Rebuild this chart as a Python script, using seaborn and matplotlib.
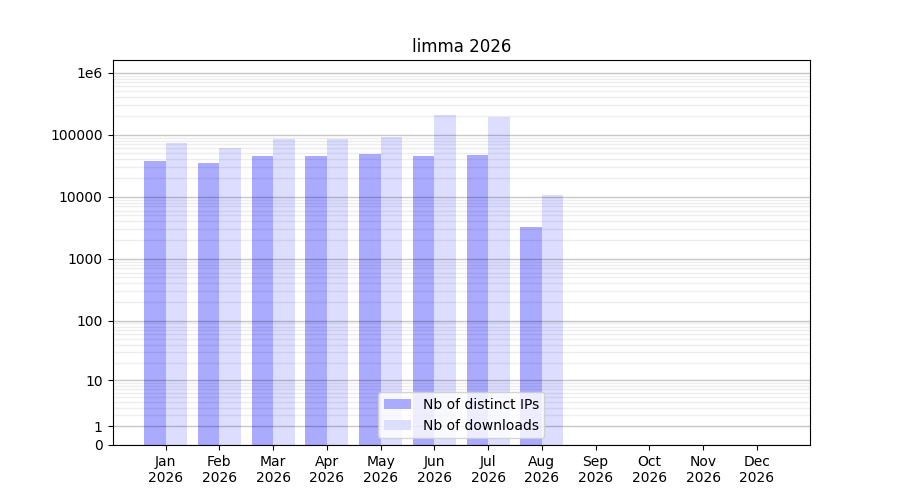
import matplotlib
matplotlib.use("Agg")
import matplotlib.pyplot as plt
import numpy as np
import pandas as pd
import seaborn as sns
from matplotlib.ticker import FixedLocator, FixedFormatter

# Data (limma, 2026)
MONTHS = ["Jan", "Feb", "Mar", "Apr", "May", "Jun",
          "Jul", "Aug", "Sep", "Oct", "Nov", "Dec"]
YEAR = 2026
distinct_ips = [37400, 34800, 45100, 45100, 48500, 45100,
                46800, 3240, 0, 0, 0, 0]
downloads = [73000, 60600, 84700, 84700, 91200, 206000,
             191000, 10600, 0, 0, 0, 0]
YTICKS = [0, 1, 10, 100, 1000, 10000, 100000, 1000000]
YTICK_LABELS = ["0", "1", "10", "100", "1000", "10000", "100000", "1e6"]


def log1p_scale(y):
    return np.log10(1 + np.clip(y, 0, None))


def inv_log1p_scale(y):
    return 10 ** y - 1


def main():
    labels = [f"{m}\n{YEAR}" for m in MONTHS]
    df = pd.DataFrame({
        "month": labels * 2,
        "value": distinct_ips + downloads,
        "series": ["Nb of distinct IPs"] * 12 + ["Nb of downloads"] * 12,
    })

    fig, ax = plt.subplots(figsize=(9, 5), dpi=100)
    sns.barplot(data=df, x="month", y="value", hue="series",
                palette=["#aaaaff", "#ddddff"], saturation=1, linewidth=0,
                width=0.8, errorbar=None, ax=ax)

    # log10(1+y) axis so that zero can be shown
    ax.set_yscale("function", functions=(log1p_scale, inv_log1p_scale))
    ax.set_ylim(0, 1.6e6)
    ax.set_xlim(-0.99, 11.99)
    ax.yaxis.set_major_locator(FixedLocator(YTICKS))
    ax.yaxis.set_major_formatter(FixedFormatter(YTICK_LABELS))
    minor = [k * 10 ** d for d in range(0, 6) for k in range(2, 10)]
    ax.yaxis.set_minor_locator(FixedLocator(minor))
    ax.tick_params(axis="y", which="minor", length=0)

    # Grid drawn over the bars
    ax.set_axisbelow(False)
    ax.grid(axis="y", which="major", color="black", alpha=0.22, linewidth=1)
    ax.grid(axis="y", which="minor", color="black", alpha=0.07, linewidth=1)

    # Aesthetics
    ax.set(xlabel="", ylabel="", title="limma 2026")
    handles, names = ax.get_legend_handles_labels()
    ax.legend(handles, names, loc="lower center")

    plt.savefig("out.png", dpi=100)
    plt.clf()


if __name__ == '__main__':
    main()
